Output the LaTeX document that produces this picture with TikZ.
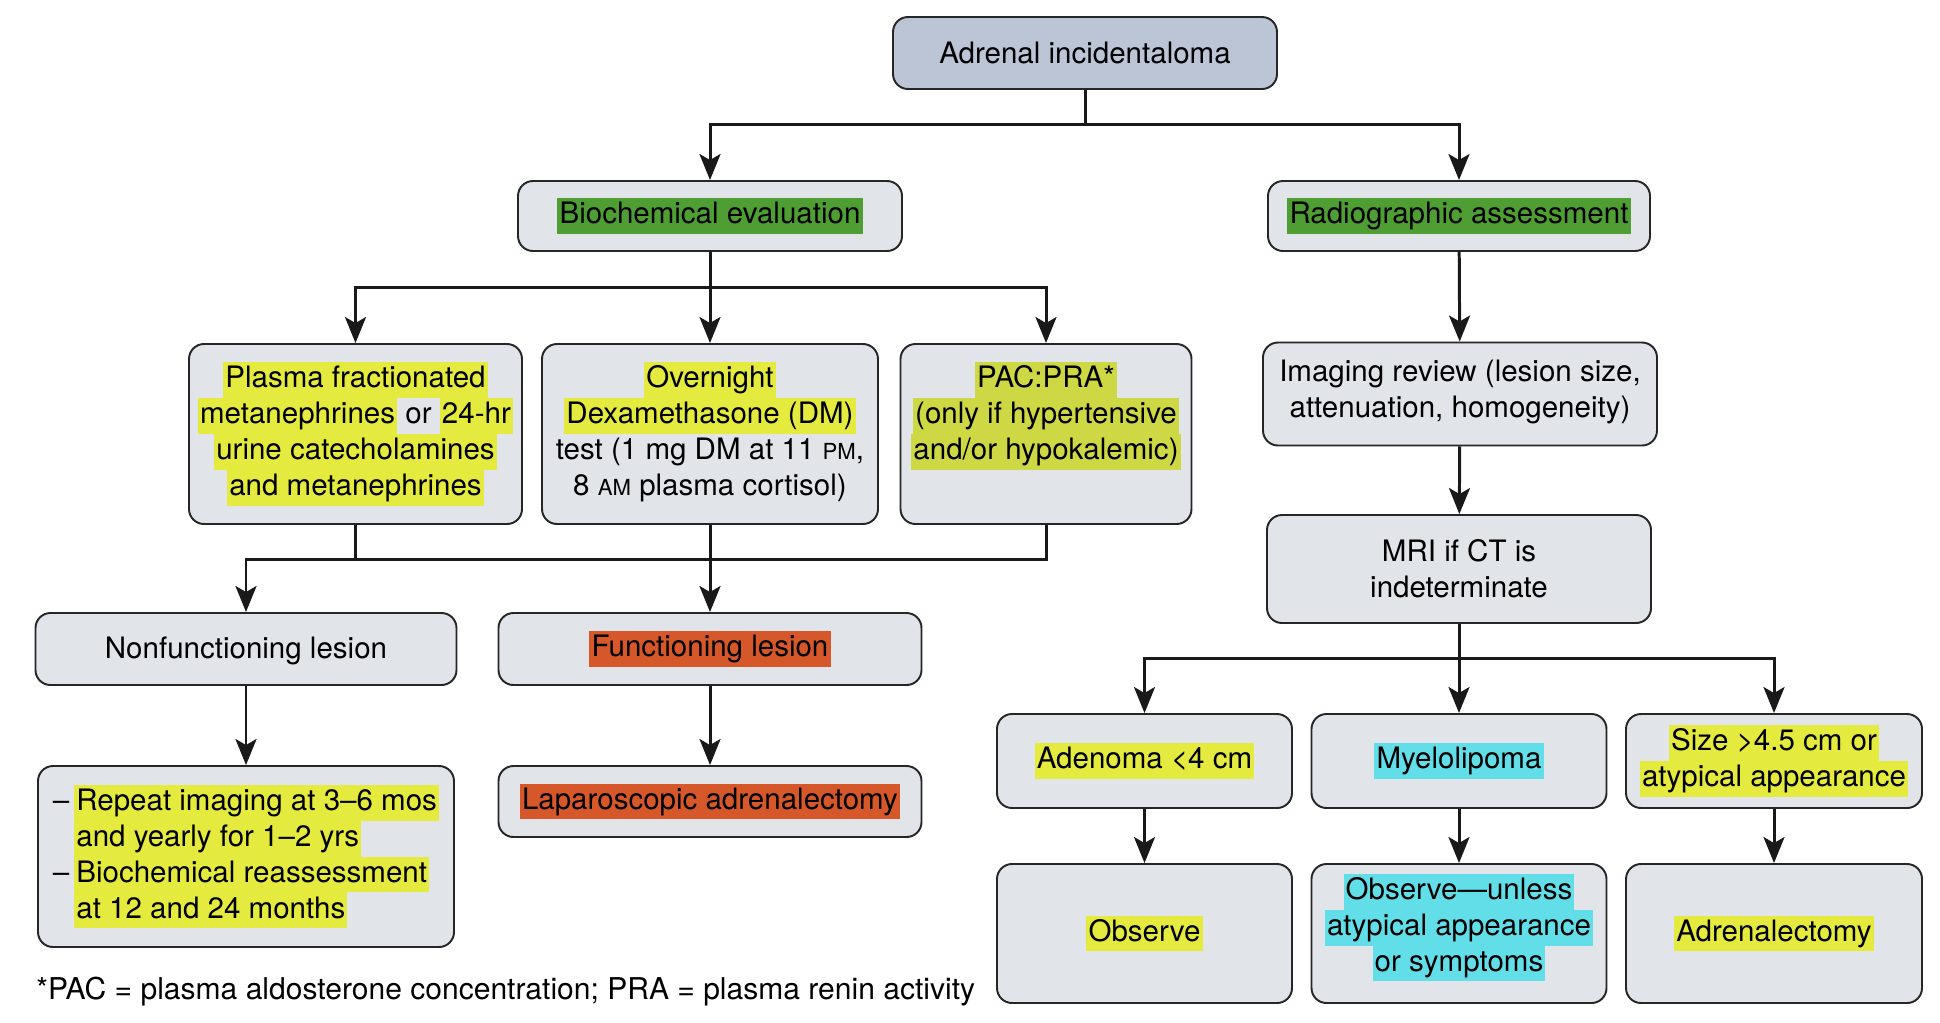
\documentclass[tikz,border=0pt]{standalone}
\usepackage{fontspec}
\setmainfont{TeX Gyre Heros}
\usetikzlibrary{arrows.meta}

\definecolor{boxgray}{RGB}{225,228,233}
\definecolor{topblue}{RGB}{188,197,214}
\definecolor{hlyellow}{RGB}{228,234,62}
\definecolor{hlolive}{RGB}{206,216,68}
\definecolor{hlgreen}{RGB}{78,158,52}
\definecolor{hlorange}{RGB}{214,88,42}
\definecolor{hlcyan}{RGB}{98,222,232}

% highlighter marks, one per line of text
\newcommand\hlstrut{\rule[-5.8pt]{0pt}{19.2pt}}
\newcommand\hl[2]{{\setlength{\fboxsep}{1.2pt}\colorbox{#1}{\rule[-4.6pt]{0pt}{18pt}#2}}}
\newcommand\yl[1]{\hl{hlyellow}{#1}}
\newcommand\smallcap[1]{{\fontsize{12.6}{12.6}\selectfont #1}}

\begin{document}
\begin{tikzpicture}[x=0.02cm,y=-0.02cm,
    >={Stealth[length=0.52cm,width=0.42cm,inset=0.12cm]},
    font=\fontsize{16.8}{20.4}\selectfont,
    box/.style={draw=black!85,line width=1.1pt,rounded corners=0.3cm,fill=boxgray,
                align=center,inner sep=2pt,text=black},
    wh/.style 2 args={minimum width=#1*0.02cm,minimum height=#2*0.02cm},
    link/.style={line width=1.7pt,draw=black!90}]

    \useasboundingbox (0,0) rectangle (1940,1022);

    \node[box,wh={384}{72},fill=topblue] (top)    at (1085,53)    {Adrenal incidentaloma};
    \node[box,wh={384}{70}]              (bio)    at (710,216)    {\hl{hlgreen}{Biochemical evaluation}};
    \node[box,wh={382}{70}]              (rad)    at (1459,216)   {\hl{hlgreen}{Radiographic assessment}};

    \node[box,wh={333}{180}] (plasma) at (355.5,434) {\yl{Plasma fractionated}\\ \yl{metanephrines} or \yl{24-hr}\\
                                                      \yl{urine catecholamines}\\ \yl{and metanephrines}};
    \node[box,wh={336}{180}] (over)   at (710,434)   {\yl{Overnight}\\ \yl{Dexamethasone (DM)}\\
                                                      test (1 mg DM at 11 \smallcap{PM},\\ 8 \smallcap{AM} plasma cortisol)\hlstrut};
    \node[box,wh={291}{180}] (pac)    at (1046,434)  {\hl{hlolive}{PAC:PRA*}\\ \hl{hlolive}{(only if hypertensive}\\
                                                      \hl{hlolive}{and/or hypokalemic)}\\ \hlstrut};
    \node[box,wh={394}{103}] (img)    at (1460,394)  {Imaging review (lesion size,\\ attenuation, homogeneity)\\[-14pt] \mbox{}};
    \node[box,wh={384}{108}] (mri)    at (1459,569)  {MRI if CT is\\ indeterminate};

    \node[box,wh={421}{72}]  (nonf)   at (246,649)   {\rule{0pt}{15pt}Nonfunctioning lesion};
    \node[box,wh={423}{72}]  (func)   at (710,649)   {\hl{hlorange}{Functioning lesion}};
    \node[box,wh={416}{181},align=left] (follow) at (246,856.5)
        {--\,\yl{Repeat imaging at 3--6 mos}\\ \phantom{--\,}\yl{and yearly for 1--2 yrs}\\
         --\,\yl{Biochemical reassessment}\\ \phantom{--\,}\yl{at 12 and 24 months}};
    \node[box,wh={423}{71}]  (lap)    at (710,801.5) {\hl{hlorange}{Laparoscopic adrenalectomy}};

    \node[box,wh={295}{94}]  (aden)   at (1144.5,761) {\yl{Adenoma <4 cm}};
    \node[box,wh={295}{94}]  (myelo)  at (1459,761)   {\hl{hlcyan}{Myelolipoma}};
    \node[box,wh={296}{94}]  (size)   at (1774,761)   {\yl{Size >4.5 cm or}\\ \yl{atypical appearance}};
    \node[box,wh={295}{139}] (obs)    at (1144.5,933.5) {\yl{Observe}};
    \node[box,wh={295}{139}] (obsu)   at (1459,933.5) {\hl{hlcyan}{Observe—unless}\\ \hl{hlcyan}{atypical appearance}\\
                                                       \hl{hlcyan}{or symptoms}\\[-8pt] \mbox{}};
    \node[box,wh={296}{139}] (adx)    at (1774,933.5) {\yl{Adrenalectomy}};

    \node[anchor=west,inner sep=0pt,font=\fontsize{17.1}{20.4}\selectfont] (note) at (36,992)
        {*PAC = plasma aldosterone concentration; PRA = plasma renin activity};

    \coordinate (split)  at (1085,124);
    \coordinate (bsplit) at (710,287);
    \coordinate (merge)  at (710,559);
    \coordinate (msplit) at (1459,658);

    \draw[link]    (top) -- (split);
    \draw[link,->] (split) -| (bio);
    \draw[link,->] (split) -| (rad);
    \draw[link]    (bio) -- (bsplit);
    \draw[link,->] (bsplit) -| (plasma);
    \draw[link,->] (bsplit) -- (over);
    \draw[link,->] (bsplit) -| (pac);
    \draw[link,->] (rad) -- (img);
    \draw[link,->] (img) -- (mri);

    \draw[link]    (plasma) |- (merge);
    \draw[link]    (pac) |- (merge);
    \draw[link,->] (over) -- (func);
    \draw[link,->] (merge) -| (nonf);
    \draw[link,->] (nonf) -- (follow);
    \draw[link,->] (func) -- (lap);

    \draw[link]    (mri) -- (msplit);
    \draw[link,->] (msplit) -| (aden);
    \draw[link,->] (msplit) -- (myelo);
    \draw[link,->] (msplit) -| (size);
    \draw[link,->] (aden) -- (obs);
    \draw[link,->] (myelo) -- (obsu);
    \draw[link,->] (size) -- (adx);
\end{tikzpicture}
\end{document}
